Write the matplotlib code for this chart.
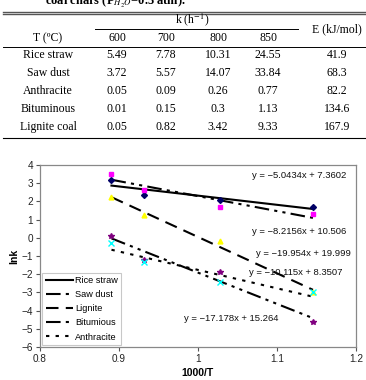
import numpy as np
import matplotlib
matplotlib.use("Agg")
import matplotlib.pyplot as plt
from matplotlib.lines import Line2D

# ---------------- data ----------------
temps_c = [600, 700, 800, 850]
materials = ["Rice straw", "Saw dust", "Anthracite", "Bituminous", "Lignite coal"]
k_rice = [5.49, 7.78, 10.31, 24.55]
k_saw = [3.72, 5.57, 14.07, 33.84]
k_anth = [0.05, 0.09, 0.26, 0.77]
k_bitu = [0.01, 0.15, 0.3, 1.13]
k_lign = [0.05, 0.82, 3.42, 9.33]
e_values = [41.9, 68.3, 82.2, 134.6, 167.9]
e_labels = ["41.9", "68.3", "82.2", "134.6", "167.9"]
k_labels = [["5.49", "7.78", "10.31", "24.55"],
            ["3.72", "5.57", "14.07", "33.84"],
            ["0.05", "0.09", "0.26", "0.77"],
            ["0.01", "0.15", "0.3", "1.13"],
            ["0.05", "0.82", "3.42", "9.33"]]

series_names = ["Rice straw", "Saw dust", "Lignite", "Bitumious", "Anthracite"]
series_k = [k_rice, k_saw, k_lign, k_bitu, k_anth]
slopes = [-5.0434, -8.2156, -19.954, -17.178, -10.115]
intercepts = [7.3602, 10.506, 19.999, 15.264, 8.3507]
eq_labels = ["y = \u22125.0434x + 7.3602", "y = \u22128.2156x + 10.506",
             "y = \u221219.954x + 19.999", "y = \u221217.178x + 15.264",
             "y = \u221210.115x + 8.3507"]
eq_pos = [(1.128, 3.45), (1.128, 0.37), (1.133, -0.89), (1.042, -4.41), (1.124, -1.88)]

# ---------------- figure ----------------
W, H = 366, 380
fig = plt.figure(figsize=(W / 100, H / 100), dpi=100)


def P(x, y):
    return x / W, 1 - y / H


serif = "Liberation Serif"
fs = 8.5

# title (cut off at the top)
plt.rcParams["mathtext.fontset"] = "stix"
fig.text(*P(45, 4.5), r"coal chars (P$_{\mathit{H_2O}}$=0.5 atm).", family=serif,
         weight="bold", fontsize=9, ha="left", va="baseline")


def hline(x0, x1, y, lw=0.8, color="black"):
    fig.add_artist(Line2D([x0 / W, x1 / W], [1 - y / H, 1 - y / H],
                          transform=fig.transFigure, lw=lw, color=color))


hline(3, 366, 11.5, lw=1.0, color="#555555")
hline(3, 366, 14, lw=1.0, color="#555555")
hline(95, 298, 29, lw=0.7)
hline(3, 366, 47, lw=0.7)
hline(3, 366, 138, lw=0.8)

col_x = [117, 166, 218, 268]
e_x = 337
lab_x = 48

fig.text(*P(192, 20), "k (h$^{\u22121}$)", family=serif, fontsize=fs, ha="center", va="center")
fig.text(*P(e_x, 29), "E (kJ/mol)", family=serif, fontsize=fs, ha="center", va="center")
fig.text(*P(lab_x, 38), "T (\u00baC)", family=serif, fontsize=fs, ha="center", va="center")
for cx, t in zip(col_x, temps_c):
    fig.text(*P(cx, 38), str(t), family=serif, fontsize=fs, ha="center", va="center")

for i, name in enumerate(materials):
    y = 55 + 18 * i
    fig.text(*P(lab_x, y), name, family=serif, fontsize=fs, ha="center", va="center")
    for cx, v in zip(col_x, k_labels[i]):
        fig.text(*P(cx, y), v, family=serif, fontsize=fs, ha="center", va="center")
    fig.text(*P(e_x, y), e_labels[i], family=serif, fontsize=fs, ha="center", va="center")

# ---------------- chart ----------------
sans = "Liberation Sans"
ax = fig.add_axes([40 / W, 1 - 347 / H, (356 - 40) / W, (347 - 165) / H])

x = 1000.0 / (np.array(temps_c) + 273.0)

styles = ["-", (0, (7, 2.5, 1.5, 2.5, 1.5, 2.5)), (0, (6, 3.5)),
          (0, (7, 2.5, 1.5, 2.5, 1.5, 2.5)), (0, (1.6, 3))]
markers = ["D", "s", "^", "*", "x"]
mcolors = ["#000066", "#ff00ff", "#ffff00", "#800080", "#00ffff"]
msizes = [3, 3.5, 3.5, 4, 4]

xl = np.array([x.min(), x.max()])
for name, kv, m, b, ls, mk, mc, ms in zip(series_names, series_k, slopes, intercepts,
                                           styles, markers, mcolors, msizes):
    ax.plot(x, np.log(kv), linestyle="none", marker=mk, color=mc, ms=ms,
            markeredgewidth=1.0, zorder=3)
    ax.plot(xl, m * xl + b, linestyle=ls, color="black", lw=1.5, label=name, zorder=2)

for txt, (tx, ty) in zip(eq_labels, eq_pos):
    ax.text(tx, ty, txt, family=sans, fontsize=6.8, ha="center", va="center", color="#111111")

ax.set_xlim(0.8, 1.2)
ax.set_ylim(-6, 4)
ax.set_xticks([0.8, 0.9, 1.0, 1.1, 1.2])
ax.set_xticklabels(["0.8", "0.9", "1", "1.1", "1.2"])
ax.set_yticks(range(-6, 5))
for lbl in ax.get_xticklabels() + ax.get_yticklabels():
    lbl.set_family(sans)
    lbl.set_fontsize(7.2)
    lbl.set_color("#222222")
ax.tick_params(direction="out", length=3, width=0.8, color="#555555", pad=2)
for s in ax.spines.values():
    s.set_color("#888888")
    s.set_linewidth(0.9)

ax.set_xlabel("1000/T", family=sans, fontsize=7.5, weight="bold", labelpad=3)
ax.set_ylabel("lnk", family=sans, fontsize=7.5, weight="bold", labelpad=2)

leg = ax.legend(loc="lower left", prop={"family": sans, "size": 6.6}, frameon=True,
                fancybox=False, edgecolor="#bbbbbb", handlelength=3.0,
                handletextpad=0.2, borderpad=0.4, labelspacing=0.55,
                borderaxespad=0.2)
leg.get_frame().set_linewidth(0.8)

fig.savefig("out.png", dpi=100)
